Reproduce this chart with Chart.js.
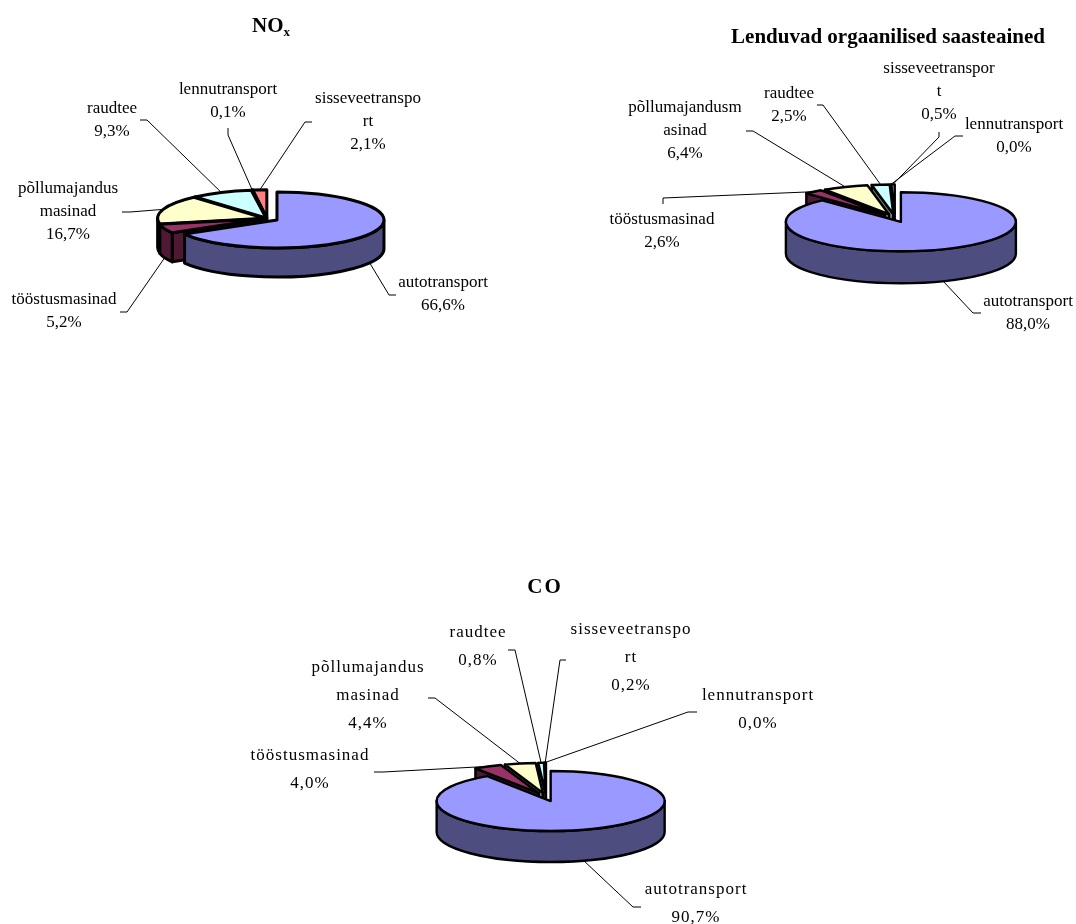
<!DOCTYPE html>
<html>
<head>
<meta charset="utf-8">
<title>NOx, Lenduvad orgaanilised saasteained, CO</title>
<script src="https://cdn.jsdelivr.net/npm/chart.js@4/dist/chart.umd.min.js"></script>
<style>
  html, body { margin: 0; padding: 0; background: #fff; overflow: hidden; }
  #page { position: relative; width: 1076px; height: 924px; }
  canvas { position: absolute; }
</style>
</head>
<body>
<div id="page">
  <canvas id="noxChart"></canvas>
  <canvas id="vocChart"></canvas>
  <canvas id="coChart"></canvas>
</div>
<script>
// slice order is the same in all three charts
var categories = ["autotransport", "tööstusmasinad", "põllumajandusmasinad", "raudtee", "lennutransport", "sisseveetransport"];
var noxValues = [66.6, 5.2, 16.7, 9.3, 0.1, 2.1];
var vocValues = [88.0, 2.6, 6.4, 2.5, 0.0, 0.5];
var coValues = [90.7, 4.0, 4.4, 0.8, 0.0, 0.2];

// how the names wrap in the picture
var noxNames = [["autotransport"], ["tööstusmasinad"], ["põllumajandus", "masinad"], ["raudtee"], ["lennutransport"], ["sisseveetranspo", "rt"]];
var vocNames = [["autotransport"], ["tööstusmasinad"], ["põllumajandusm", "asinad"], ["raudtee"], ["lennutransport"], ["sisseveetranspor", "t"]];
var coNames = [["autotransport"], ["tööstusmasinad"], ["põllumajandus", "masinad"], ["raudtee"], ["lennutransport"], ["sisseveetranspo", "rt"]];

var topColors = ["#9999FF", "#993366", "#FFFFCC", "#CCFFFF", "#660066", "#FF8080"];
var sideColors = ["#4D4D80", "#4D1933", "#808066", "#668080", "#330033", "#804040"];

// label placement: text centre x, first line y, leader tail x/y, elbow x/y
var noxPlaces = [
  [443, 283, 396, 295, 389, 295], [64, 300, 120, 312, 127, 312], [68, 189, 122, 212, 130, 212],
  [112, 109, 140, 120, 147, 120], [228, 90, 228, 128, 228, 135], [368, 99, 312, 122, 305, 122]
];
var vocPlaces = [
  [1028, 302, 981, 313, 973, 313], [662, 220, 663, 204, 663, 198], [685, 108, 746, 131, 753, 131],
  [789, 94, 817, 105, 823, 105], [1014, 125, 963, 136, 955, 136], [939, 69, 939, 132, 939, 137]
];
var coPlaces = [
  [696, 890, 641, 907, 633, 907], [310, 756, 374, 772, 383, 772], [368, 668, 428, 698, 435, 698],
  [478, 633, 508, 650, 515, 650], [758, 696, 697, 712, 688, 712], [631, 630, 566, 660, 560, 660]
];

var labelFont = '17px "Liberation Serif"';
var labelLine = 23;

function pie3d(id, box, values, names, places, shape, title) {
  var canvas = document.getElementById(id);
  canvas.width = box[2];
  canvas.height = box[3];
  canvas.style.left = box[0] + "px";
  canvas.style.top = box[1] + "px";

  var squash = {
    id: "squash",
    beforeDatasetsDraw: function (chart) {
      var ctx = chart.ctx;
      var arcs = chart.getDatasetMeta(0).data;
      ctx.save();
      ctx.translate(-box[0], -box[1]);

      // back slices first, the biggest one ends up in front
      var order = arcs.map(function (a, i) { return i; });
      order.sort(function (p, q) { return Math.sin(mid(arcs[p])) - Math.sin(mid(arcs[q])); });
      order.forEach(function (i) { drawSlice(ctx, arcs[i], i, shape); });
      order.forEach(function (i) { drawLeader(ctx, arcs[i], i, places[i], shape); });

      values.forEach(function (v, i) {
        var lines = names[i].concat([v.toFixed(1).replace(".", ",") + "%"]);
        ctx.font = labelFont;
        ctx.letterSpacing = shape.spacing;
        ctx.fillStyle = "#000";
        ctx.textAlign = "center";
        ctx.textBaseline = "middle";
        lines.forEach(function (s, n) {
          ctx.fillText(s, places[i][0], places[i][1] + n * shape.line);
        });
      });
      ctx.letterSpacing = "0px";
      drawTitle(ctx, title);
      ctx.restore();
      return false;
    }
  };

  return new Chart(canvas, {
    type: "pie",
    data: {
      labels: categories,
      datasets: [{ data: values, backgroundColor: topColors, borderWidth: 0 }]
    },
    options: {
      responsive: false,
      animation: false,
      devicePixelRatio: 1,
      plugins: { legend: { display: false }, tooltip: { enabled: false }, title: { display: false } }
    },
    plugins: [squash]
  });
}

function mid(arc) {
  return (arc.startAngle + arc.endAngle) / 2;
}

// centre of one exploded slice, in page pixels
function sliceCentre(arc, i, s) {
  var m = mid(arc);
  var e = i === 0 ? s.mainExplode : s.explode;
  return { x: s.cx + Math.cos(m) * e, y: s.cy + Math.sin(m) * e * s.ry / s.rx };
}

function rimPoint(c, a, s) {
  return { x: c.x + Math.cos(a) * s.rx, y: c.y + Math.sin(a) * s.ry };
}

function drawSlice(ctx, arc, i, s) {
  var c = sliceCentre(arc, i, s);
  var a0 = arc.startAngle, a1 = arc.endAngle;
  ctx.lineWidth = s.border;
  ctx.strokeStyle = "#000";
  ctx.lineJoin = "round";
  ctx.fillStyle = sideColors[i];

  if (a1 - a0 < 0.0001) {
    var z = rimPoint(c, a0, s);
    ctx.beginPath();
    ctx.moveTo(c.x, c.y);
    ctx.lineTo(z.x, z.y);
    ctx.stroke();
    return;
  }

  // cut faces, only the ones that look towards the viewer
  if (Math.cos(a0) < 0) cutFace(ctx, c, a0, s);
  if (Math.cos(a1) > 0) cutFace(ctx, c, a1, s);

  // outer wall, front half only
  var f0 = Math.max(a0, 0), f1 = Math.min(a1, Math.PI);
  if (f1 > f0) {
    ctx.beginPath();
    ctx.ellipse(c.x, c.y, s.rx, s.ry, 0, f0, f1);
    ctx.ellipse(c.x, c.y + s.depth, s.rx, s.ry, 0, f1, f0, true);
    ctx.closePath();
    ctx.fill();
    ctx.stroke();
  }

  // the top is the library's own arc, squashed onto the ellipse
  ctx.save();
  ctx.translate(c.x, c.y);
  ctx.scale(s.rx / arc.outerRadius, s.ry / arc.outerRadius);
  ctx.translate(-arc.x, -arc.y);
  arc.draw(ctx);
  ctx.restore();

  ctx.beginPath();
  ctx.moveTo(c.x, c.y);
  ctx.ellipse(c.x, c.y, s.rx, s.ry, 0, a0, a1);
  ctx.closePath();
  ctx.stroke();
}

function cutFace(ctx, c, a, s) {
  var p = rimPoint(c, a, s);
  ctx.beginPath();
  ctx.moveTo(c.x, c.y);
  ctx.lineTo(p.x, p.y);
  ctx.lineTo(p.x, p.y + s.depth);
  ctx.lineTo(c.x, c.y + s.depth);
  ctx.closePath();
  ctx.fill();
  ctx.stroke();
}

function drawLeader(ctx, arc, i, place, s) {
  var m = mid(arc);
  var p = rimPoint(sliceCentre(arc, i, s), m, s);
  if (Math.sin(m) > 0) p.y += s.depth;
  ctx.lineWidth = 1;
  ctx.strokeStyle = "#000";
  ctx.beginPath();
  ctx.moveTo(place[2], place[3]);
  ctx.lineTo(place[4], place[5]);
  ctx.lineTo(p.x, p.y);
  ctx.stroke();
}

function drawTitle(ctx, t) {
  ctx.fillStyle = "#000";
  ctx.textBaseline = "middle";
  ctx.textAlign = "left";
  ctx.letterSpacing = t.spacing;
  ctx.font = "bold " + t.size + 'px "Liberation Serif"';
  var w = ctx.measureText(t.text).width;
  var sw = 0;
  if (t.sub) {
    ctx.font = "bold 13px \"Liberation Serif\"";
    sw = ctx.measureText(t.sub).width;
    ctx.font = "bold " + t.size + 'px "Liberation Serif"';
  }
  var x = t.x - (w + sw) / 2;
  ctx.fillText(t.text, x, t.y);
  if (t.sub) {
    ctx.font = "bold 13px \"Liberation Serif\"";
    ctx.fillText(t.sub, x + w, t.y + 6);
  }
  ctx.letterSpacing = "0px";
}

pie3d("noxChart", [0, 0, 530, 360], noxValues, noxNames, noxPlaces,
  { cx: 267, cy: 218.5, rx: 107, ry: 28, depth: 29, explode: 2.5, mainExplode: 11.5, border: 3, spacing: "0px", line: labelLine },
  { text: "NO", sub: "x", x: 271, y: 27, size: 21, spacing: "0px" });

pie3d("vocChart", [530, 0, 546, 360], vocValues, vocNames, vocPlaces,
  { cx: 895, cy: 218, rx: 115, ry: 29.5, depth: 32, explode: 16, mainExplode: 16, border: 2.4, spacing: "0px", line: labelLine },
  { text: "Lenduvad orgaanilised saasteained", x: 888, y: 38, size: 21, spacing: "0px" });

pie3d("coChart", [230, 560, 600, 364], coValues, coNames, coPlaces,
  { cx: 546, cy: 797, rx: 114, ry: 30, depth: 31, explode: 16, mainExplode: 16, border: 2.4, spacing: "1px", line: 28 },
  { text: "CO", x: 545, y: 588, size: 21, spacing: "2px" });
</script>
</body>
</html>
